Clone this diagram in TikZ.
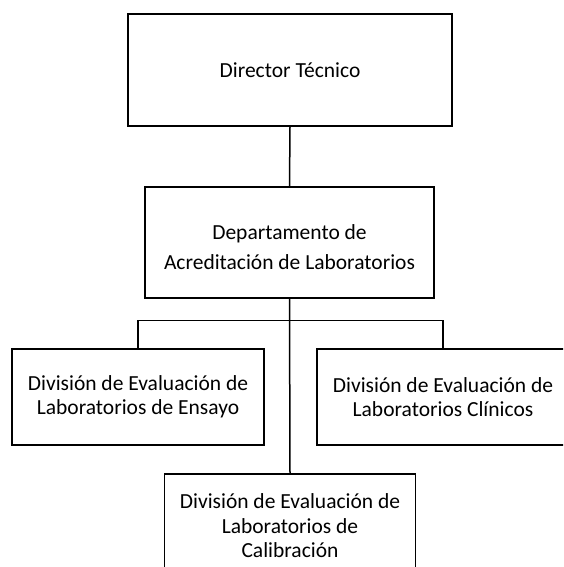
\documentclass[tikz,border=0pt]{standalone}
\usepackage{fontspec}
\setmainfont{Carlito}
\usepackage{tikz}

\begin{document}
\begin{tikzpicture}[x=1pt,y=-1pt,
    unit/.style={draw,line width=1.5pt,align=center,inner sep=0pt,
        font=\fontsize{21.5}{30}\selectfont},
    division/.style={unit,font=\fontsize{21.5}{24.5}\selectfont},
    link/.style={line width=1.5pt}]
\useasboundingbox (0,0) rectangle (563,567);
\clip (0,0) rectangle (563,567);

% Top levels
\node[unit,minimum width=324pt,minimum height=112pt] (dir) at (290,70) {Director Técnico};
\node[unit,minimum width=289pt,minimum height=111pt] (dep) at (289.5,242.5)
    {\raisebox{-5.5pt}[\height][\depth]{\begin{tabular}{@{}c@{}}Departamento de\\Acreditación de Laboratorios\end{tabular}}};

% Divisions
\node[division,minimum width=252pt,minimum height=96pt] (ensayo) at (138,397)
    {División de Evaluación de\\Laboratorios de Ensayo};
\node[division,minimum width=252pt,minimum height=96pt] (clinicos) at (443,397)
    {División de Evaluación de\\Laboratorios Clínicos};
\node[division,minimum width=251pt,minimum height=104pt] (calib) at (290,526)
    {División de Evaluación de\\Laboratorios de\\Calibración};

% Links
\draw[link] (dir.south) -- (dep.north);
\draw[link] (dep.south) -- (calib.north);
\draw[link] (ensayo.north) -- ++(0,-28) -| (clinicos.north);
\end{tikzpicture}
\end{document}
